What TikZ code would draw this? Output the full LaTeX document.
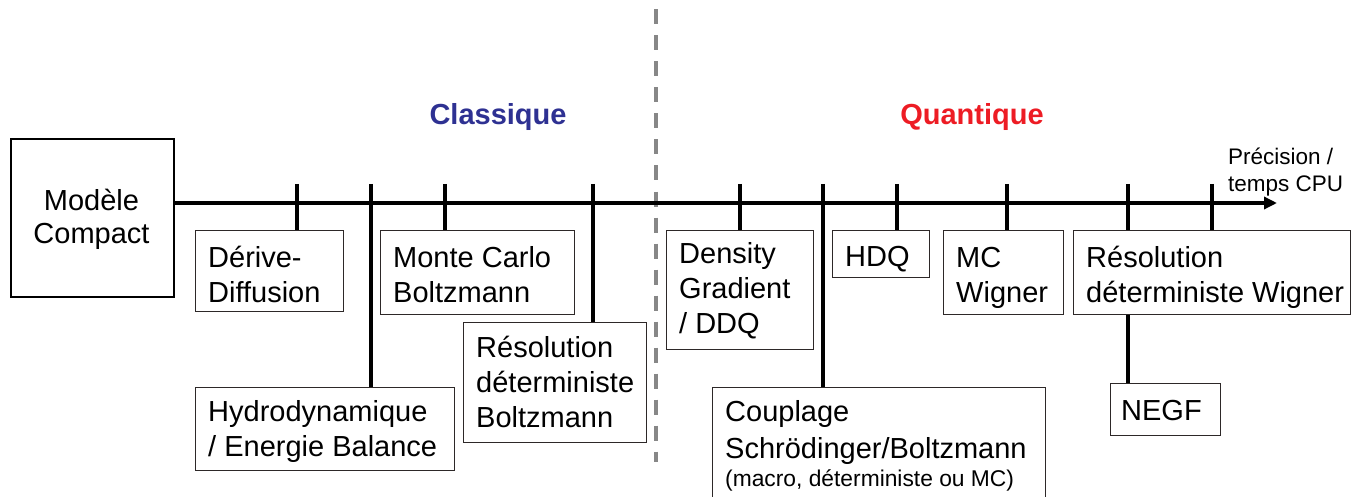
\documentclass[tikz,border=0pt]{standalone}
\usepackage{fontspec}
\setmainfont{Liberation Sans}
\usetikzlibrary{arrows.meta}
\definecolor{classblue}{RGB}{46,49,146}
\definecolor{quantred}{RGB}{237,28,36}
\definecolor{dashgray}{RGB}{135,135,135}
\definecolor{frame}{RGB}{45,40,40}
\pgfdeclarelayer{bg}
\pgfsetlayers{bg,main}
\begin{document}
\begin{tikzpicture}[x=1pt,y=-1pt,
  boxframe/.style={draw=frame, line width=1.4pt, fill=white, anchor=north west, inner sep=0pt},
  boxtext/.style={anchor=base west, inner sep=0pt, align=left, font=\fontsize{29}{35}\selectfont},
  conn/.style={line width=3.6pt, black},
  axisline/.style={line width=3.6pt, black, -{Triangle[length=13pt,width=12pt]}},
  title/.style={font=\fontsize{29}{34}\selectfont\bfseries, inner sep=0pt}]
\useasboundingbox (0,0) rectangle (1364,497);

% titles
\node[title, text=classblue] (cl) at (498,117) {Classique};
\node[title, text=quantred] (qu) at (972,117) {Quantique};

% compact model
\node[draw=black, line width=2.4pt, fill=white, anchor=north west, minimum width=163pt, minimum height=158pt, inner sep=0pt] (mc) at (10,138) {};
\node[anchor=base, align=center, inner sep=0pt, font=\fontsize{29}{33}\selectfont] (mct) at (91.5,243) {Modèle\\Compact};

% boxes (text anchored at the baseline of its last line)
\node[boxframe, minimum width=148pt, minimum height=81pt] (dd) at (195,230) {};
\node[boxtext] (ddt) at ([shift={(13,72)}]dd.north west) {Dérive-\\Diffusion};

\node[boxframe, minimum width=194pt, minimum height=84pt] (mcb) at (380,230) {};
\node[boxtext] (mcbt) at ([shift={(13,72)}]mcb.north west) {Monte Carlo\\Boltzmann};

\node[boxframe, minimum width=259pt, minimum height=83pt] (hy) at (195,387) {};
\node[boxtext] (hyt) at ([shift={(13,69)}]hy.north west) {Hydrodynamique\\/ Energie Balance};

\node[boxframe, minimum width=183pt, minimum height=120pt] (rb) at (463,322) {};
\node[boxtext] (rbt) at ([shift={(13,105)}]rb.north west) {Résolution\\déterministe\\Boltzmann};

\node[boxframe, minimum width=147pt, minimum height=119pt] (dg) at (666,230) {};
\node[boxtext] (dgt) at ([shift={(13,103)}]dg.north west) {Density\\Gradient\\/ DDQ};

\node[boxframe, minimum width=333pt, minimum height=115pt] (cp) at (712,387) {};
\node[boxtext, font=\fontsize{29}{37}\selectfont] (cpt) at ([shift={(13,71)}]cp.north west) {Couplage\\Schrödinger/Boltzmann};
\node[anchor=base west, inner sep=0pt, font=\fontsize{22.8}{26}\selectfont] (cpm) at ([shift={(13,99)}]cp.north west) {(macro, déterministe ou MC)};

\node[boxframe, minimum width=97pt, minimum height=47pt] (hd) at (832,230) {};
\node[boxtext] (hdt) at ([shift={(13,36)}]hd.north west) {HDQ};

\node[boxframe, minimum width=120pt, minimum height=84pt] (mw) at (943,230) {};
\node[boxtext] (mwt) at ([shift={(13,72)}]mw.north west) {MC\\Wigner};

\node[boxframe, minimum width=277pt, minimum height=84pt] (rw) at (1073,230) {};
\node[boxtext] (rwt) at ([shift={(13,72)}]rw.north west) {Résolution\\déterministe Wigner};

\node[boxframe, minimum width=110pt, minimum height=52pt] (ng) at (1110,383) {};
\node[boxtext] (ngt) at ([shift={(11,37)}]ng.north west) {NEGF};

% axis label
\node[anchor=base west, align=left, inner sep=0pt, font=\fontsize{22.5}{27}\selectfont] (lab) at (1228,192) {Précision /\\temps CPU};

% coordinates
\coordinate (axs) at (173,203);
\coordinate (axe) at (1277,203);
\coordinate (t1) at (297,184);
\coordinate (t2) at (371,184);
\coordinate (t3) at (445,184);
\coordinate (t4) at (593,184);
\coordinate (t5) at (740,184);
\coordinate (t6) at (823,184);
\coordinate (t7) at (897,184);
\coordinate (t8) at (1007,184);
\coordinate (t9) at (1128,184);
\coordinate (t10) at (1212,184);
\coordinate (dtop) at (656,9.5);
\coordinate (dbot) at (656,462);

\begin{pgfonlayer}{bg}
\draw[dashgray, line width=4pt, dash pattern=on 15pt off 11pt] (dtop) -- (dbot);
\draw[axisline] (axs) -- (axe);
\draw[conn] (t1) -- (t1 |- dd.north);
\draw[conn] (t2) -- (t2 |- hy.north);
\draw[conn] (t3) -- (t3 |- mcb.north);
\draw[conn] (t4) -- (t4 |- rb.north);
\draw[conn] (t5) -- (t5 |- dg.north);
\draw[conn] (t6) -- (t6 |- cp.north);
\draw[conn] (t7) -- (t7 |- hd.north);
\draw[conn] (t8) -- (t8 |- mw.north);
\draw[conn] (t9) -- (t9 |- ng.north);
\draw[conn] (t10) -- (t10 |- rw.north);
\end{pgfonlayer}
\end{tikzpicture}
\end{document}
